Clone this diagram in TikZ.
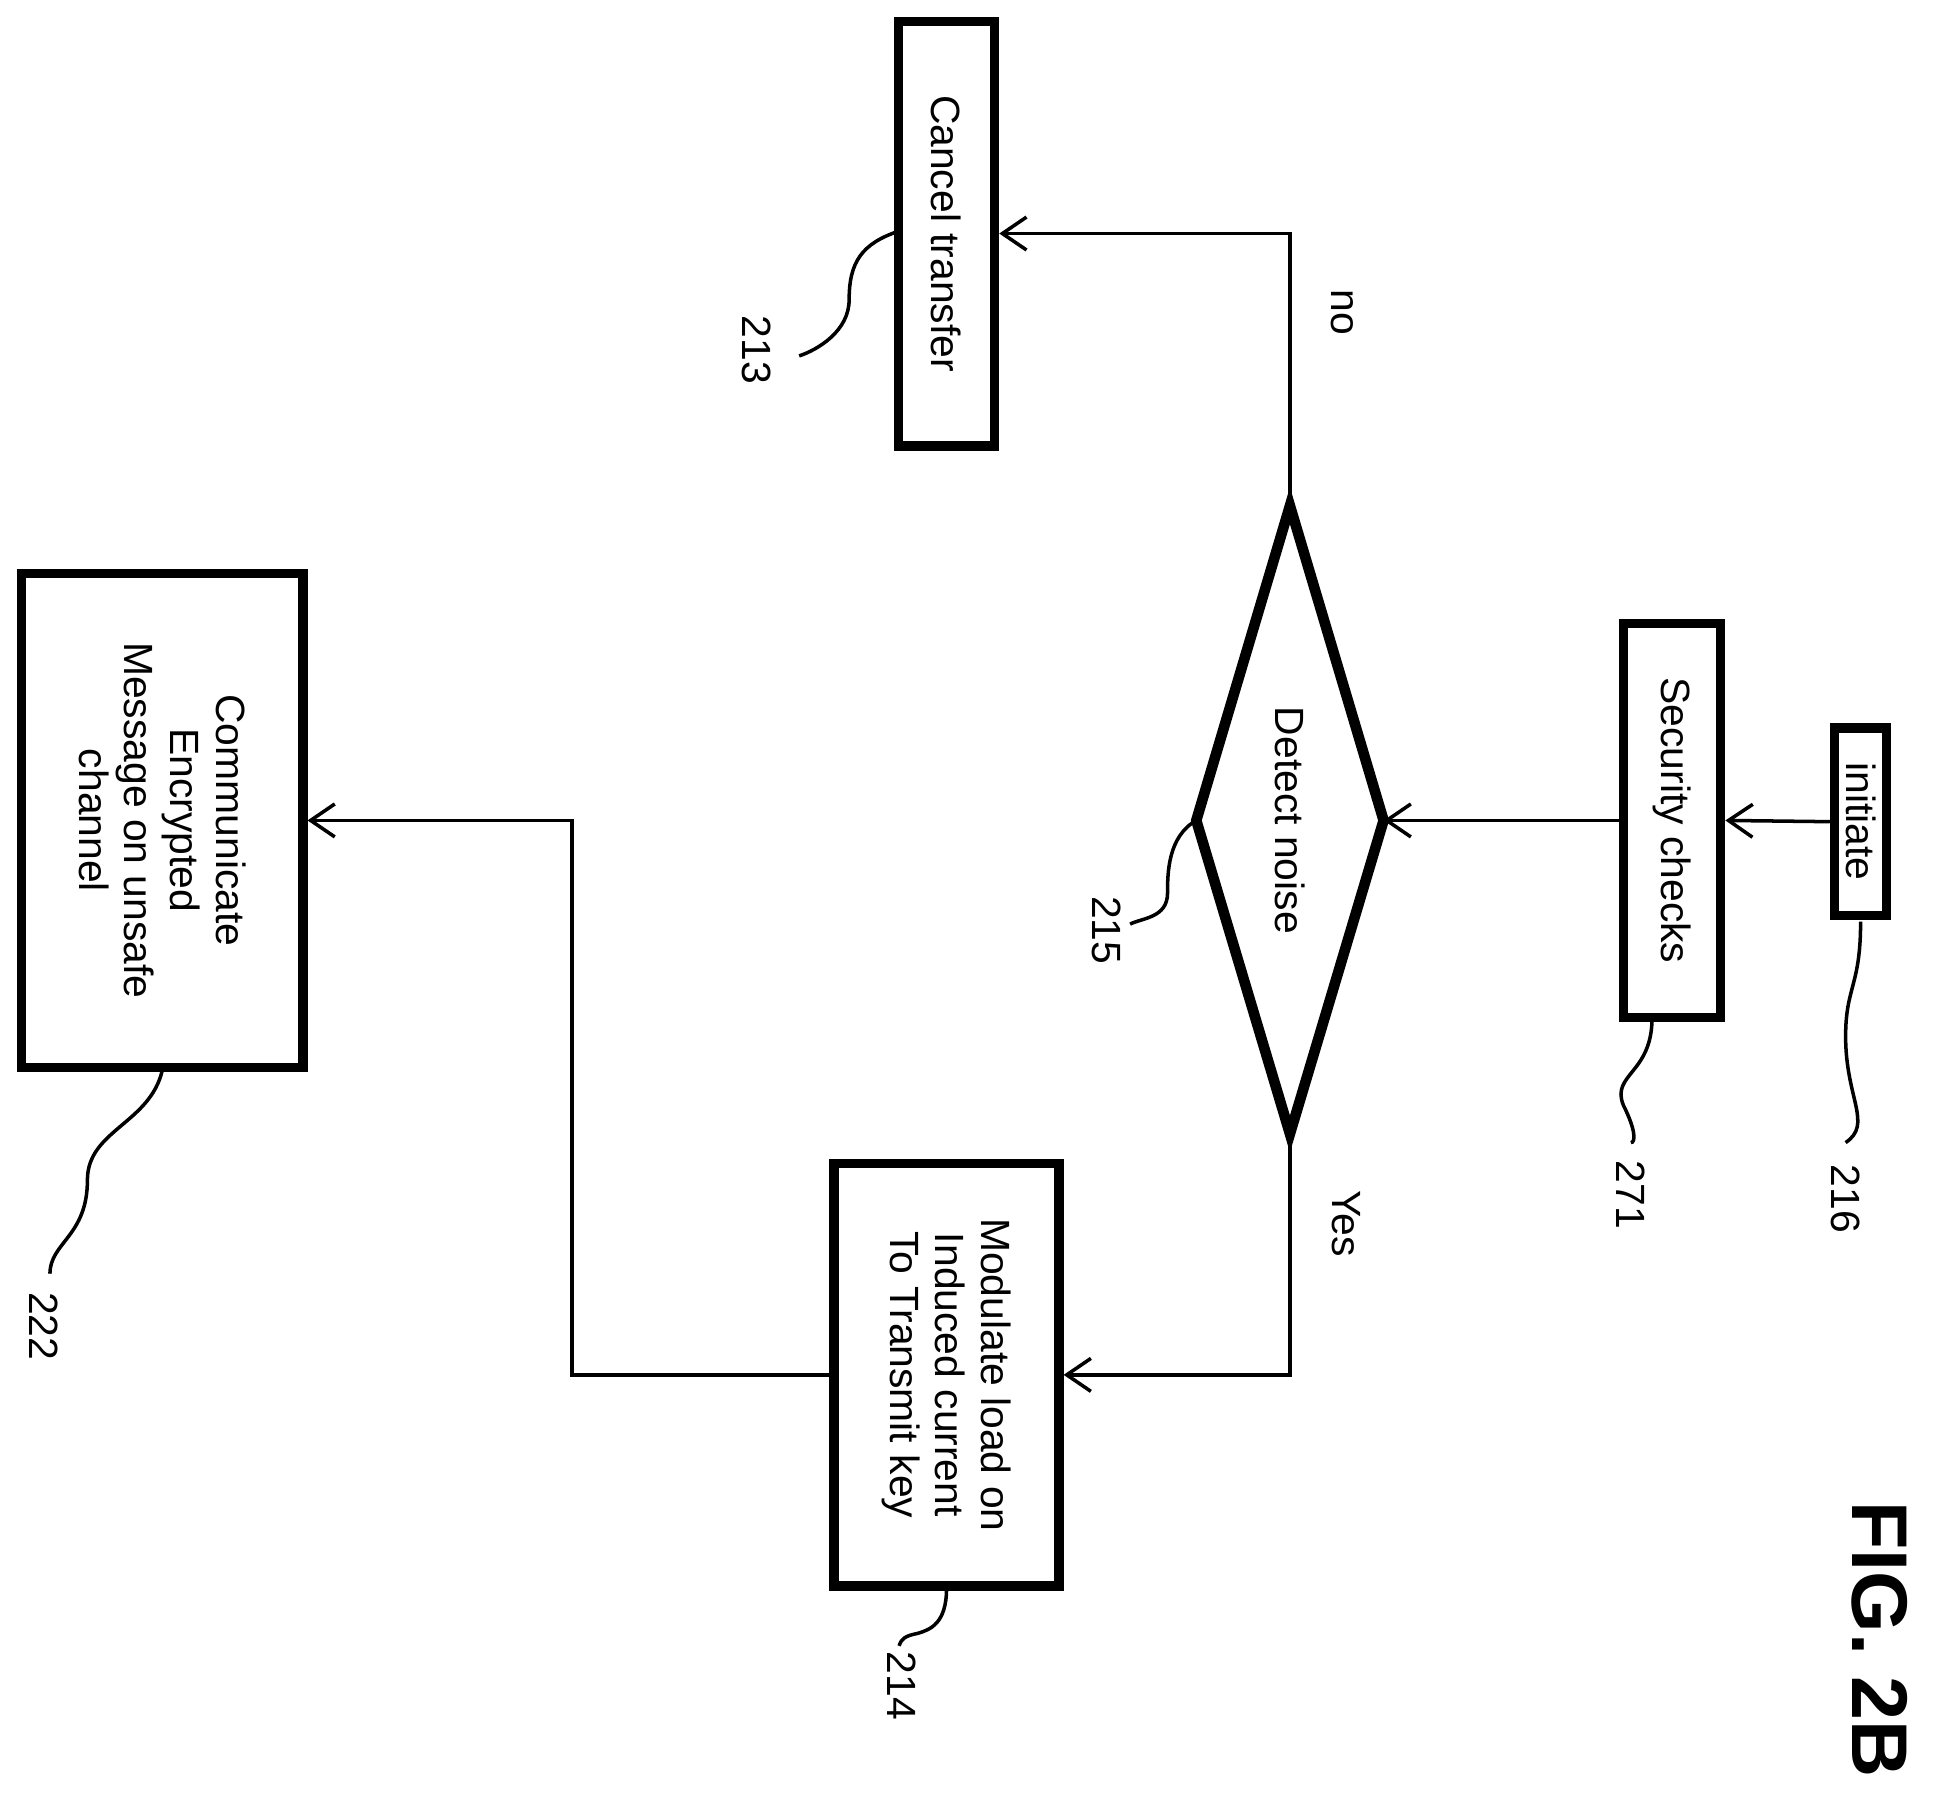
\documentclass[tikz,border=0pt]{standalone}
\usepackage{fontspec}
\setmainfont{Liberation Sans}
\usetikzlibrary{arrows.meta,shapes.geometric}
\begin{document}
\begin{tikzpicture}[x=0.01cm,y=-0.01cm,
 box/.style={draw,line width=2.1pt,inner sep=0pt},
 txt/.style={rotate=-90,font=\fontsize{9.3}{10.4}\selectfont,align=center},
 conn/.style={line width=0.8pt,-{Straight Barb[length=5.5pt,width=7.5pt]}},
 lead/.style={line width=0.8pt}]
\useasboundingbox (0,0) rectangle (1552,1444);
\node[box,minimum width=0.42cm,minimum height=1.5cm] (init) at (1490,658) {};
\node[txt] at (init) {initiate};
\node[box,minimum width=0.78cm,minimum height=3.15cm] (sec) at (1339,657) {};
\node[txt] at (sec) {Security checks};
\coordinate (dr) at (1108,657); \coordinate (dl) at (958,657);
\coordinate (dt) at (1033,405); \coordinate (db) at (1033,908);
\draw[line width=2.4pt,line join=miter] (dr)--(dt)--(dl)--(db)--cycle;
\node[txt] (dn) at (1033,657) {Detect noise};
\node[box,minimum width=0.77cm,minimum height=3.4cm] (can) at (758,187) {};
\node[txt] at (can) {Cancel transfer};
\node[box,minimum width=1.8cm,minimum height=3.38cm] (mod) at (758,1101) {};
\node[txt] at (mod) {Modulate load on\\Induced current\\To Transmit key};
\node[box,minimum width=2.25cm,minimum height=3.95cm] (com) at (130,657) {};
\node[txt] at (com) {Communicate\\Encrypted\\Message on unsafe\\channel};
\draw[conn] (init.west) -- (sec.east);
\draw[conn] (sec.west) -- (dr);
\draw[conn] (dt) -- (1033,187) -- (can.east);
\draw[conn] (db) -- (1033,1101) -- (mod.east);
\draw[conn] (mod.west) -- (458,1101) -- (458,657) -- (com.east);
\node[txt] (no) at (1075,250) {no};
\node[txt] (yes) at (1078,980) {Yes};
\node[txt] (n216) at (1478,960) {216};
\node[txt] (n271) at (1306,957) {271};
\node[txt] (n215) at (886,745) {215};
\node[txt] (n213) at (606,280) {213};
\node[txt] (n214) at (722,1350) {214};
\node[txt] (n222) at (35,1062) {222};
\node[rotate=-90,font=\bfseries\fontsize{18}{18}\selectfont] (fig) at (1505,1313) {FIG. 2B};
\draw[lead] (1490,738) .. controls (1490,790) and (1478,790) .. (1478,830) .. controls (1478,880) and (1500,900) .. (1478,915);
\draw[lead] (1323,815) .. controls (1323,860) and (1290,860) .. (1300,885) .. controls (1310,905) and (1310,915) .. (1306,915);
\draw[lead] (958,657) .. controls (935,670) and (935,700) .. (935,715) .. controls (935,735) and (915,735) .. (905,740);
\draw[lead] (720,185) .. controls (690,195) and (680,210) .. (680,240) .. controls (680,265) and (655,280) .. (640,285);
\draw[lead] (758,1272) .. controls (758,1300) and (745,1305) .. (735,1308) .. controls (725,1310) and (722,1312) .. (720,1318);
\draw[lead] (130,857) .. controls (120,900) and (70,905) .. (70,945) .. controls (70,990) and (40,995) .. (40,1020);
\end{tikzpicture}
\end{document}
